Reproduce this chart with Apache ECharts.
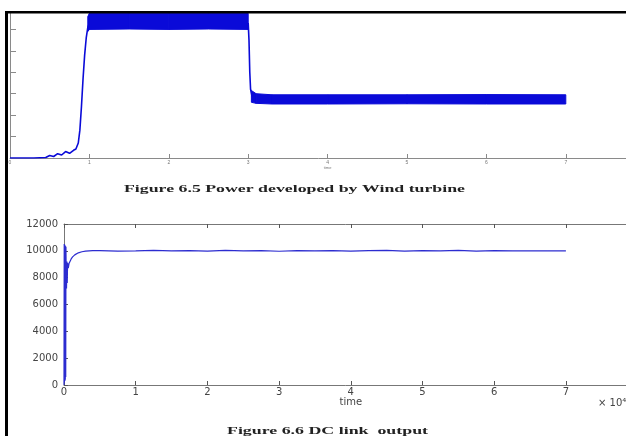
<!DOCTYPE html>
<html>
<head>
<meta charset="utf-8">
<script src="https://cdn.jsdelivr.net/npm/echarts@6/dist/echarts.min.js"></script>
<style>
  html, body { margin: 0; padding: 0; background: #fff; }
  #main { width: 626px; height: 436px; }
</style>
</head>
<body>
<div id="main"></div>
<script>
// Figure 6.5 - power developed by wind turbine (y units unreadable, ticks 0..7)
const powerTime = [0, 0.3, 0.45, 0.5, 0.55, 0.6, 0.65, 0.7, 0.75, 0.8, 0.83, 0.86, 0.88, 0.9, 0.92, 0.94, 0.96, 0.98, 1.0]
const powerVal = [0, 0, 0.02, 0.12, 0.07, 0.2, 0.14, 0.3, 0.22, 0.36, 0.42, 0.7, 1.3, 2.4, 3.7, 4.8, 5.6, 6.1, 6.3]
const dropTime = [3.0, 3.01, 3.02, 3.03, 3.05]
const dropVal = [6.3, 5.5, 4.0, 3.2, 2.85]
// ripple band envelopes
const highBandTime = [0.98, 1.0, 1.5, 2.0, 2.5, 3.0]
const highBandLo = [5.9, 6.0, 6.02, 6.0, 6.02, 6.0]
const highBandHi = [6.6, 6.75, 6.75, 6.75, 6.75, 6.75]
const lowBandTime = [3.04, 3.1, 3.3, 4.0, 5.0, 6.0, 7.0]
const lowBandLo = [2.6, 2.55, 2.52, 2.52, 2.53, 2.52, 2.52]
const lowBandHi = [3.15, 3.0, 2.95, 2.95, 2.95, 2.96, 2.95]
const topXTicks = [0, 1, 2, 3, 4, 5, 6, 7]

// Figure 6.6 - DC link output (time x 10^4)
const dcTime = [0, 0.003, 0.006, 0.009, 0.012, 0.015, 0.018, 0.021, 0.024, 0.027, 0.03, 0.035, 0.04, 0.045, 0.05, 0.06, 0.07, 0.08, 0.1, 0.12, 0.15, 0.2, 0.25, 0.3, 0.4, 0.5,
  0.75, 1.0, 1.25, 1.5, 1.75, 2.0, 2.25, 2.5, 2.75, 3.0, 3.25, 3.5, 3.75, 4.0, 4.25, 4.5, 4.75, 5.0, 5.25, 5.5, 5.75, 6.0, 6.25, 6.5, 6.75, 7.0]
const dcVal = [0, 10500, 200, 10450, 300, 10400, 400, 10350, 600, 10300, 8600, 7200, 9200, 7600, 9100, 8700, 9050, 9150, 9400, 9550, 9700, 9850, 9930, 9980, 10020, 10010,
  9980, 10000, 10030, 9990, 10020, 9980, 10030, 9990, 10020, 9970, 10010, 9990, 10020, 9980, 10010, 10030, 9980, 10020, 9990, 10030, 9980, 10010, 9990, 10000, 9990, 10000]
const dcYTicks = [0, 2000, 4000, 6000, 8000, 10000, 12000]
const dcXTicks = [0, 1, 2, 3, 4, 5, 6, 7]

const chart = echarts.init(document.getElementById('main'), null, { renderer: 'canvas' })

function zip (a, b) { return a.map((v, i) => [v, b[i]]) }
function bandData (t, lo, hi) { return t.map((v, i) => [v, lo[i], hi[i]]) }

function bandRender (data) {
  return function (params, api) {
    const i = params.dataIndex
    if (i >= data.length - 1) return null
    const a = data[i]
    const b = data[i + 1]
    return {
      type: 'polygon',
      shape: {
        points: [api.coord([a[0], a[1]]), api.coord([b[0], b[1]]), api.coord([b[0], b[2]]), api.coord([a[0], a[2]])]
      },
      style: { fill: '#0a0ad8', stroke: '#0a0ad8', lineWidth: 1 }
    }
  }
}

// caption width fitting (scanned text is horizontally stretched)
const ctx = document.createElement('canvas').getContext('2d')
const capFont = 'bold 11px "Liberation Serif"'
function stretch (text, target) {
  ctx.font = capFont
  return target / ctx.measureText(text).width
}
const cap1 = 'Figure 6.5 Power developed by Wind turbine'
const cap2 = 'Figure 6.6 DC link  output'

const gridAxis = '#8a8a8a'

const option = {
  backgroundColor: '#fff',
  animation: false,
  grid: [
    { left: 10, top: 158 - 7 * 21.43, width: 8 * 79.4, height: 7 * 21.43, outerBoundsMode: 'none', containLabel: false },
    { left: 64, top: 224, width: 8 * 71.7, height: 161, outerBoundsMode: 'none', containLabel: false }
  ],
  xAxis: [
    {
      type: 'value', gridIndex: 0, min: 0, max: 8, interval: 1, z: 3,
      name: 'time', nameLocation: 'middle', nameGap: 8,
      nameTextStyle: { fontSize: 4, color: '#777' },
      axisLine: { lineStyle: { color: gridAxis, width: 1 } },
      axisTick: { inside: true, length: 4, lineStyle: { color: gridAxis } },
      axisLabel: { fontSize: 5, color: '#777', margin: 2, formatter: v => topXTicks.includes(v) ? String(v) : '' },
      splitLine: { show: false }
    },
    {
      type: 'value', gridIndex: 1, min: 0, max: 8, interval: 1, z: 3,
      name: 'time', nameLocation: 'middle', nameGap: 11,
      nameTextStyle: { fontSize: 10, color: '#444', fontFamily: 'DejaVu Sans' },
      axisLine: { lineStyle: { color: '#777', width: 1 } },
      axisTick: { inside: true, length: 4, lineStyle: { color: '#555' } },
      axisLabel: { fontSize: 10, color: '#444', margin: 2, fontFamily: 'DejaVu Sans', formatter: v => dcXTicks.includes(v) ? String(v) : '' },
      splitLine: { show: false }
    },
    {
      type: 'value', gridIndex: 1, min: 0, max: 8, interval: 1, position: 'top', z: 3,
      axisLine: { lineStyle: { color: '#777', width: 1 } },
      axisTick: { inside: true, length: 4, lineStyle: { color: '#555' } },
      axisLabel: { show: false },
      splitLine: { show: false }
    }
  ],
  yAxis: [
    {
      type: 'value', gridIndex: 0, min: 0, max: 7, interval: 1, z: 3,
      axisLine: { show: true, lineStyle: { color: gridAxis, width: 1 } },
      axisTick: { show: true, inside: true, length: 6, lineStyle: { color: gridAxis } },
      axisLabel: { show: false },
      splitLine: { show: false }
    },
    {
      type: 'value', gridIndex: 1, min: 0, max: 12000, interval: 2000, z: 3,
      axisLine: { show: true, lineStyle: { color: '#777', width: 1 } },
      axisTick: { show: true, inside: true, length: 4, lineStyle: { color: '#555' } },
      axisLabel: { fontSize: 10, color: '#444', margin: 6, fontFamily: 'DejaVu Sans', formatter: v => dcYTicks.includes(v) ? String(v) : '' },
      splitLine: { show: false }
    }
  ],
  series: [
    {
      type: 'line', xAxisIndex: 0, yAxisIndex: 0, data: zip(powerTime, powerVal),
      showSymbol: false, lineStyle: { color: '#0a0ad8', width: 1.6 }
    },
    {
      type: 'line', xAxisIndex: 0, yAxisIndex: 0, data: zip(dropTime, dropVal),
      showSymbol: false, lineStyle: { color: '#0a0ad8', width: 1.6 }
    },
    {
      type: 'custom', xAxisIndex: 0, yAxisIndex: 0,
      data: bandData(highBandTime, highBandLo, highBandHi),
      renderItem: bandRender(bandData(highBandTime, highBandLo, highBandHi))
    },
    {
      type: 'custom', xAxisIndex: 0, yAxisIndex: 0,
      data: bandData(lowBandTime, lowBandLo, lowBandHi),
      renderItem: bandRender(bandData(lowBandTime, lowBandLo, lowBandHi))
    },
    {
      type: 'line', xAxisIndex: 1, yAxisIndex: 1, data: zip(dcTime, dcVal),
      showSymbol: false, lineStyle: { color: '#2c2cd0', width: 1.2 }
    }
  ],
  graphic: [
    { type: 'rect', z: 100, shape: { x: 0, y: 0, width: 626, height: 11 }, style: { fill: '#fff' } },
    { type: 'rect', z: 101, shape: { x: 5, y: 11, width: 621, height: 2.5 }, style: { fill: '#000' } },
    { type: 'rect', z: 101, shape: { x: 5, y: 11, width: 3, height: 425 }, style: { fill: '#000' } },
    {
      type: 'text', z: 50, x: 294.5, y: 189, scaleX: stretch(cap1, 341),
      style: { text: cap1, font: capFont, fill: '#222', align: 'center', verticalAlign: 'middle' }
    },
    {
      type: 'text', z: 50, x: 327.5, y: 431, scaleX: stretch(cap2, 201),
      style: { text: cap2, font: capFont, fill: '#222', align: 'center', verticalAlign: 'middle' }
    },
    {
      type: 'text', z: 50, x: 598, y: 403,
      style: { text: '× 10⁴', font: '10px "DejaVu Sans"', fill: '#444', align: 'left', verticalAlign: 'middle' }
    }
  ]
}

chart.setOption(option)
</script>
</body>
</html>
